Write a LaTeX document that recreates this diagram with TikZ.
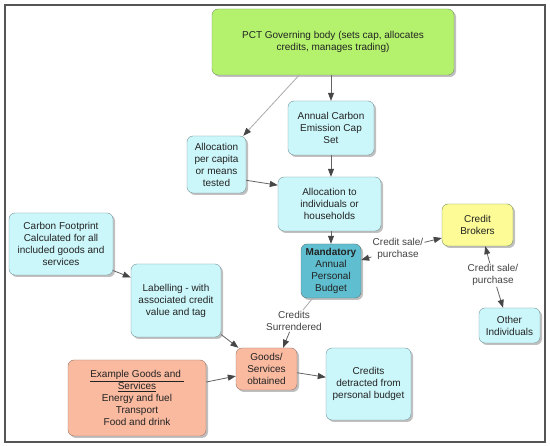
\documentclass[tikz,border=0pt]{standalone}
\usepackage{fontspec}
\setmainfont{Liberation Sans}
\usetikzlibrary{arrows.meta,shadows,calc}
\definecolor{framecol}{RGB}{85,85,85}
\definecolor{gfill}{RGB}{180,242,110}
\definecolor{gdraw}{RGB}{120,150,95}
\definecolor{cfill}{RGB}{204,247,250}
\definecolor{cdraw}{RGB}{120,150,155}
\definecolor{tfill}{RGB}{95,190,207}
\definecolor{yfill}{RGB}{252,251,150}
\definecolor{sfill}{RGB}{250,186,160}
\definecolor{sdraw}{RGB}{150,120,110}
\definecolor{txt}{RGB}{34,34,34}
\definecolor{lnk}{RGB}{100,100,100}
\definecolor{lnklight}{RGB}{170,170,170}
\definecolor{tipcol}{RGB}{70,70,70}
\definecolor{shad}{RGB}{130,130,130}
\begin{document}
\begin{tikzpicture}[x=1pt,y=-1pt,
  box/.style={draw=cdraw, fill=cfill, rounded corners=6pt, align=center, inner sep=0pt,
    text=txt, font=\fontsize{10}{12}\selectfont,
    drop shadow={shadow xshift=2pt, shadow yshift=-2pt, fill=shad}},
  lbl/.style={fill=white, inner sep=1pt, align=center, text=txt!85,
    font=\fontsize{10}{12}\selectfont},
  tip/.style={Triangle[length=8pt,width=6pt,fill=tipcol,color=tipcol]},
  arr/.style={draw=lnk, line width=0.8pt, -{Triangle[length=8pt,width=6pt,fill=tipcol,color=tipcol]}},
  arrlight/.style={draw=lnklight, line width=0.8pt, -{Triangle[length=8pt,width=6pt,fill=tipcol,color=tipcol]}},
  plain/.style={draw=lnklight, line width=0.8pt}
]
\useasboundingbox (0,0) rectangle (550,446);
\fill[white] (0,0) rectangle (550,446);
\draw[framecol, line width=1.5pt] (5,5) rectangle (545,442);

% nodes
\node[box, fill=gfill, draw=gdraw, minimum width=242pt, minimum height=66pt] (gov) at (333,42)
  {PCT Governing body (sets cap, allocates\\credits, manages trading)};
\node[box, minimum width=86pt, minimum height=54pt] (cap) at (331,128)
  {Annual Carbon\\Emission Cap\\Set};
\node[box, minimum width=59pt, minimum height=57pt] (percap) at (216.5,164.5)
  {Allocation\\per capita\\or means\\tested};
\node[box, minimum width=103pt, minimum height=54pt] (alloc) at (329.5,204)
  {Allocation to\\individuals or\\households};
\node[box, fill=yfill, draw=gdraw, minimum width=71pt, minimum height=42pt] (brokers) at (477.5,225)
  {Credit\\Brokers};
\node[box, fill=tfill, draw=cdraw!80!black, minimum width=60pt, minimum height=54pt] (mand) at (331,271)
  {\textbf{Mandatory}\\Annual\\Personal\\Budget};
\node[box, minimum width=104pt, minimum height=62pt] (cf) at (61,244)
  {Carbon Footprint\\Calculated for all\\included goods and\\services};
\node[box, minimum width=90pt, minimum height=73pt] (label) at (176,300.5)
  {Labelling - with\\associated credit\\value and tag};
\node[box, minimum width=61pt, minimum height=35pt] (other) at (509.5,325.5)
  {Other\\Individuals};
\node[box, fill=sfill, draw=sdraw, minimum width=61pt, minimum height=42pt] (goods) at (266.5,369)
  {Goods/\\Services\\obtained};
\node[box, fill=sfill, draw=sdraw, minimum width=138pt, minimum height=76pt] (example) at (137,398)
  {\underline{Example Goods and\ }\\\underline{Services}\\Energy and fuel\\Transport\\Food and drink};
\node[box, minimum width=85pt, minimum height=72pt] (detract) at (368.5,384)
  {Credits\\detracted from\\personal budget};

% labels on connectors
\node[lbl] (lab1) at (398,249) {Credit sale/\\purchase};
\node[lbl] (lab2) at (493,275) {Credit sale/\\purchase};
\node[lbl] (lab3) at (294,321) {Credits\\Surrendered};

% connectors
\draw[arr] (cap.north |- gov.south) -- (cap.north);
\draw[arrlight] ($(gov.south west)!0.36!(gov.south east)$) -- (percap.47);
\draw[arr] (percap.-28) -- (alloc.160);
\draw[arr] (cap.south) -- (cap.south |- alloc.north);
\draw[arr] (mand.north |- alloc.south) -- (mand.north);
\draw[arr] (lab1) -- (mand.20);
\draw[arr] (lab1) -- (brokers.200);
\draw[arr] (lab2) -- (brokers.-70);
\draw[arr] (lab2) -- (other.110);
\draw[plain] (mand.-124) -- (lab3);
\draw[arr] (lab3) -- (goods.52);
\draw[arr] (cf.-27) -- (label.153);
\draw[arr] (label.-37) -- (goods.143);
\draw[arr] (example.13) -- (goods.193);
\draw[arr] (goods.-7) -- (detract.171);
\end{tikzpicture}
\end{document}
